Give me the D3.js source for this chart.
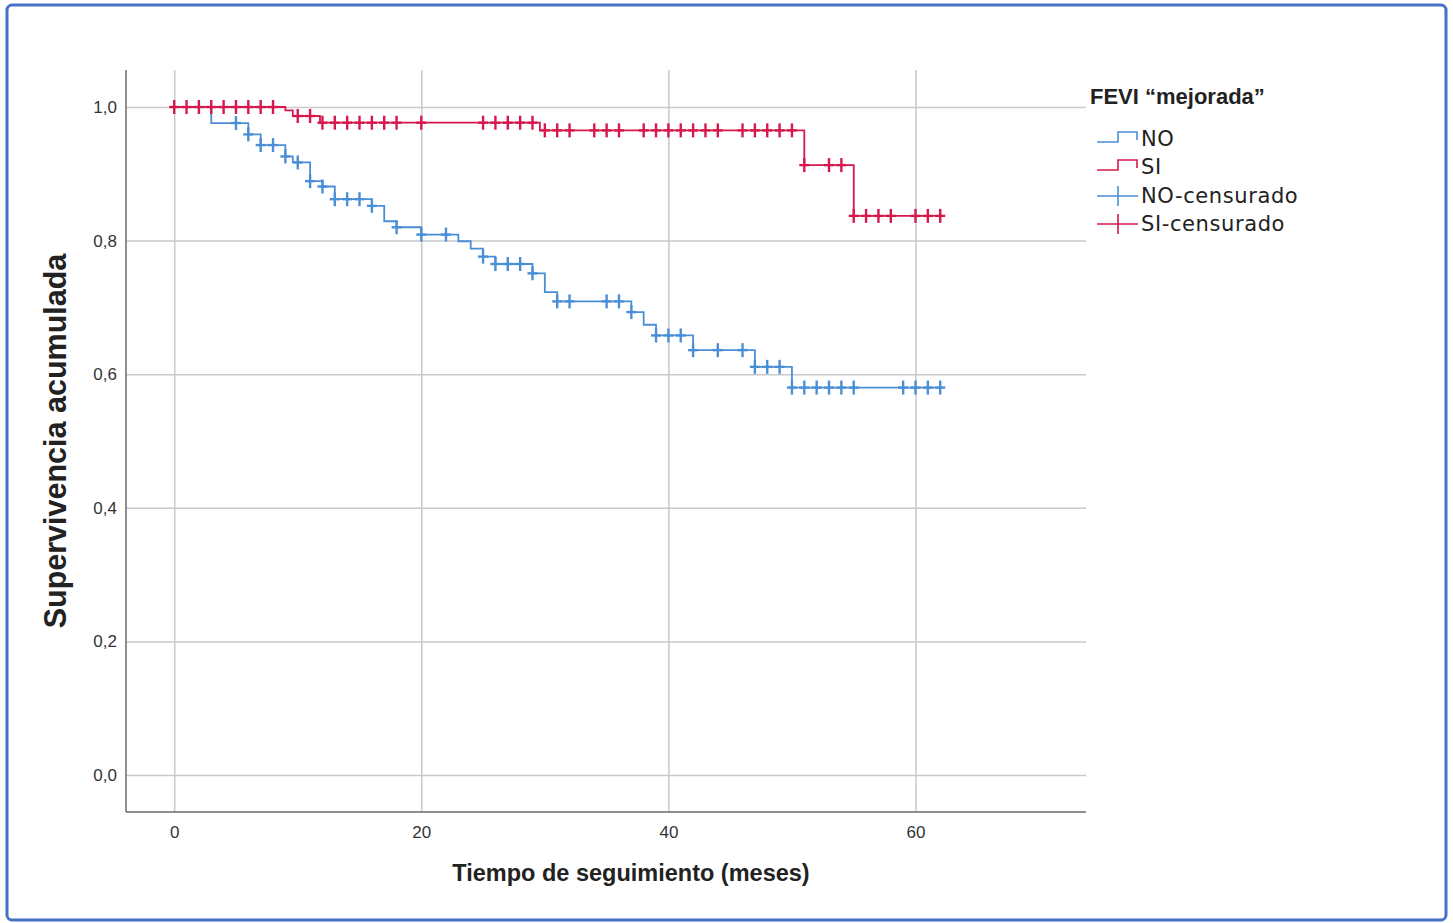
<!DOCTYPE html>
<html>
<head>
<meta charset="utf-8">
<script src="https://cdn.jsdelivr.net/npm/d3@7"></script>
<style>
  body { margin: 0; background: #fff; }
  svg { display: block; }
</style>
</head>
<body>
<div id="container"></div>
<script>
// Kaplan-Meier data
var xTicks = [0, 20, 40, 60];
var yTicks = [0, 0.2, 0.4, 0.6, 0.8, 1.0];

// Grupo NO: tiempos de evento y supervivencia tras cada escalón
var noTimes = [0, 3, 6, 7, 9, 9.6, 11, 12, 13, 16, 17, 18, 20, 23, 24, 25, 26, 29, 30, 31, 37, 38, 39, 42, 47, 50];
var noSurv = [1.0, 0.976, 0.959, 0.943, 0.926, 0.917, 0.889, 0.881, 0.862, 0.852, 0.829, 0.820, 0.809, 0.799, 0.788, 0.776, 0.765, 0.751, 0.723, 0.709, 0.693, 0.674, 0.658, 0.636, 0.611, 0.580];
var noCensored = [5, 6, 7, 8, 9, 10, 11, 12, 13, 14, 15, 16, 18, 20, 22, 25, 26, 27, 28, 29, 31, 32, 35, 36, 37, 39, 40, 41, 42, 44, 46, 47, 48, 49, 50, 51, 52, 53, 54, 55, 59, 60, 61, 62];
var noEnd = 62;

// Grupo SI
var siTimes = [0, 9, 9.6, 11.8, 29.6, 51, 55];
var siSurv = [1.0, 0.995, 0.9865, 0.9765, 0.965, 0.913, 0.837];
var siCensored = [0, 1, 2, 3, 4, 5, 6, 7, 8, 10, 11, 12, 13, 14, 15, 16, 17, 18, 20, 25, 26, 27, 28, 29, 30, 31, 32, 34, 35, 36, 38, 39, 40, 41, 42, 43, 44, 46, 47, 48, 49, 50, 51, 53, 54, 55, 56, 57, 58, 60, 61, 62];
var siEnd = 62;

var legendLabels = ["NO", "SI", "NO-censurado", "SI-censurado"];

var BLUE = "#4a8fd6";
var RED = "#d6184c";

var W = 1453, H = 923;
// Plot area edges (named to avoid window.top)
var pLeft = 126, pRight = 1086, pTop = 70, pBottom = 812;

var svg = d3.select("#container").append("svg")
    .attr("width", W)
    .attr("height", H);

// Marco azul
svg.append("rect")
    .attr("x", 7).attr("y", 5)
    .attr("width", W - 14).attr("height", H - 8)
    .attr("rx", 5)
    .attr("fill", "#fff")
    .attr("stroke", "#4571c6")
    .attr("stroke-width", 3);

var x = d3.scaleLinear().domain([-3.9, 73.8]).range([pLeft, pRight]);
var y = d3.scaleLinear().domain([-0.0554, 1.0554]).range([pBottom, pTop]);

// Gridlines + axes
var gx = svg.append("g")
    .attr("transform", "translate(0," + pBottom + ")")
    .call(d3.axisBottom(x).tickValues(xTicks).tickSizeInner(-(pBottom - pTop)).tickSizeOuter(0).tickPadding(14));
var gy = svg.append("g")
    .attr("transform", "translate(" + pLeft + ",0)")
    .call(d3.axisLeft(y).tickValues(yTicks).tickSizeInner(-(pRight - pLeft)).tickSizeOuter(0).tickPadding(9)
      .tickFormat(function(d) { return d3.format(".1f")(d).replace(".", ","); }));

[gx, gy].forEach(function(g) {
  g.select(".domain").remove();
  g.selectAll(".tick line").attr("stroke", "#c9c9c9").attr("stroke-width", 1.5);
  g.selectAll(".tick text")
    .attr("fill", "#333")
    .style("font-family", "'Liberation Sans', Arial, sans-serif")
    .style("font-size", "17px");
});

// Axis lines
svg.append("line").attr("x1", pLeft).attr("x2", pLeft).attr("y1", pTop).attr("y2", pBottom)
    .attr("stroke", "#6a6a6a").attr("stroke-width", 1.5);
svg.append("line").attr("x1", pLeft).attr("x2", pRight).attr("y1", pBottom).attr("y2", pBottom)
    .attr("stroke", "#6a6a6a").attr("stroke-width", 1.5);

// Axis titles
svg.append("text")
    .attr("x", 631).attr("y", 881)
    .attr("text-anchor", "middle")
    .style("font-family", "'Liberation Sans', Arial, sans-serif")
    .style("font-weight", "bold").style("font-size", "23.5px")
    .attr("fill", "#222")
    .text("Tiempo de seguimiento (meses)");

svg.append("text")
    .attr("transform", "translate(66," + 441 + ") rotate(-90)")
    .attr("text-anchor", "middle")
    .style("font-family", "'Liberation Sans', Arial, sans-serif")
    .style("font-weight", "bold").style("font-size", "30.5px")
    .attr("fill", "#222")
    .text("Supervivencia acumulada");

// Step function helpers
function stepPoints(times, surv, end) {
  var pts = times.map(function(t, i) { return [t, surv[i]]; });
  pts.push([end, surv[surv.length - 1]]);
  return pts;
}
function survAt(times, surv, t) {
  var s = surv[0];
  for (var i = 0; i < times.length; i++) {
    if (times[i] <= t) s = surv[i];
  }
  return s;
}

var line = d3.line()
    .x(function(d) { return x(d[0]); })
    .y(function(d) { return y(d[1]); })
    .curve(d3.curveStepAfter);

function drawGroup(times, surv, censored, end, color) {
  svg.append("path")
    .datum(stepPoints(times, surv, end))
    .attr("fill", "none")
    .attr("stroke", color)
    .attr("stroke-width", 1.8)
    .attr("d", line);

  var g = svg.append("g");
  censored.forEach(function(t) {
    var cx = x(t), cy = y(survAt(times, surv, t));
    g.append("line").attr("x1", cx).attr("x2", cx).attr("y1", cy - 7).attr("y2", cy + 7)
      .attr("stroke", color).attr("stroke-width", 2.4);
    g.append("line").attr("x1", cx - 5).attr("x2", cx + 5).attr("y1", cy).attr("y2", cy)
      .attr("stroke", color).attr("stroke-width", 2.4);
  });
}

drawGroup(noTimes, noSurv, noCensored, noEnd, BLUE);
drawGroup(siTimes, siSurv, siCensored, siEnd, RED);

// Legend
var lg = svg.append("g");
lg.append("text")
    .attr("x", 1090).attr("y", 104)
    .style("font-family", "'Liberation Sans', Arial, sans-serif")
    .style("font-weight", "bold").style("font-size", "22px")
    .attr("fill", "#222")
    .text("FEVI \u201Cmejorada\u201D");

var legendColors = [BLUE, RED, BLUE, RED];
var legendY = [139, 167, 196, 224];
legendLabels.forEach(function(lbl, i) {
  var ly = legendY[i];
  var c = legendColors[i];
  if (i < 2) {
    lg.append("path")
      .attr("d", "M1097," + (ly + 3) + "H1118V" + (ly - 7) + "H1137V" + (ly + 1))
      .attr("fill", "none").attr("stroke", c).attr("stroke-width", 1.6);
  } else {
    lg.append("line").attr("x1", 1097).attr("x2", 1138).attr("y1", ly).attr("y2", ly)
      .attr("stroke", c).attr("stroke-width", 1.6);
    lg.append("line").attr("x1", 1118).attr("x2", 1118).attr("y1", ly - 10).attr("y2", ly + 10)
      .attr("stroke", c).attr("stroke-width", 1.6);
  }
  lg.append("text")
    .attr("x", 1141).attr("y", ly + 7)
    .style("font-family", "'DejaVu Sans', sans-serif")
    .style("font-size", "21px")
    .style("letter-spacing", "0.6px")
    .attr("fill", "#222")
    .text(lbl);
});
</script>
</body>
</html>
